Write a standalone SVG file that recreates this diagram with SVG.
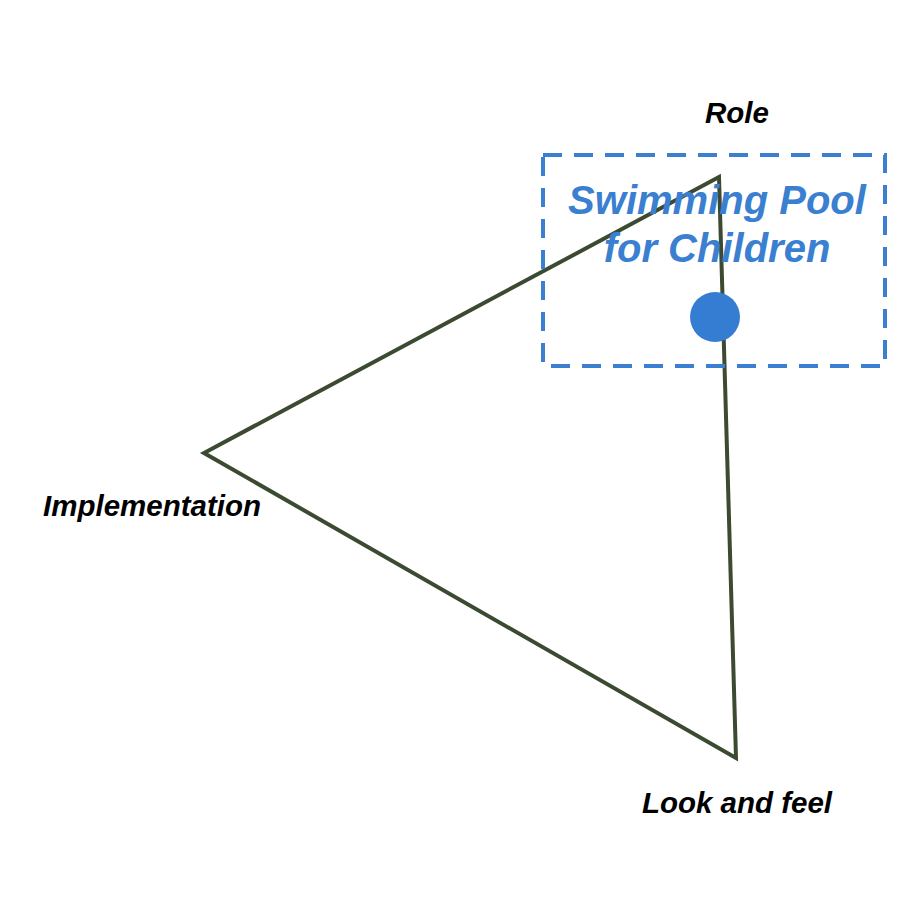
<svg xmlns="http://www.w3.org/2000/svg" width="900" height="900" viewBox="0 0 900 900">
<style>
.lbl{font-family:"Liberation Sans",Arial,sans-serif;font-weight:bold;font-style:italic;font-size:29.5px;fill:#000;text-anchor:middle}
.title{font-family:"Liberation Sans",Arial,sans-serif;font-weight:bold;font-style:italic;font-size:40px;fill:#3a7fd0;text-anchor:middle}
.tri{fill:none;stroke:#3b4a30;stroke-width:4;stroke-linejoin:miter}
.box{fill:none;stroke:#3a7fd0;stroke-width:4;stroke-dasharray:19 12}
</style>
<rect width="900" height="900" fill="#fff"/>
<g id="connectors">
<polygon class="tri" points="719,177 204,453 736,758"/>
</g>
<g id="role"><text class="lbl" x="737" y="123">Role</text></g>
<g id="implementation"><text class="lbl" x="152" y="516">Implementation</text></g>
<g id="lookandfeel"><text class="lbl" x="737" y="813">Look and feel</text></g>
<g id="pool">
<rect class="box" x="543" y="155" width="342" height="211"/>
<text class="title" x="717" y="214">Swimming Pool</text>
<text class="title" x="717" y="262">for Children</text>
<circle cx="715" cy="317" r="25" fill="#347dd2"/>
</g>
</svg>
